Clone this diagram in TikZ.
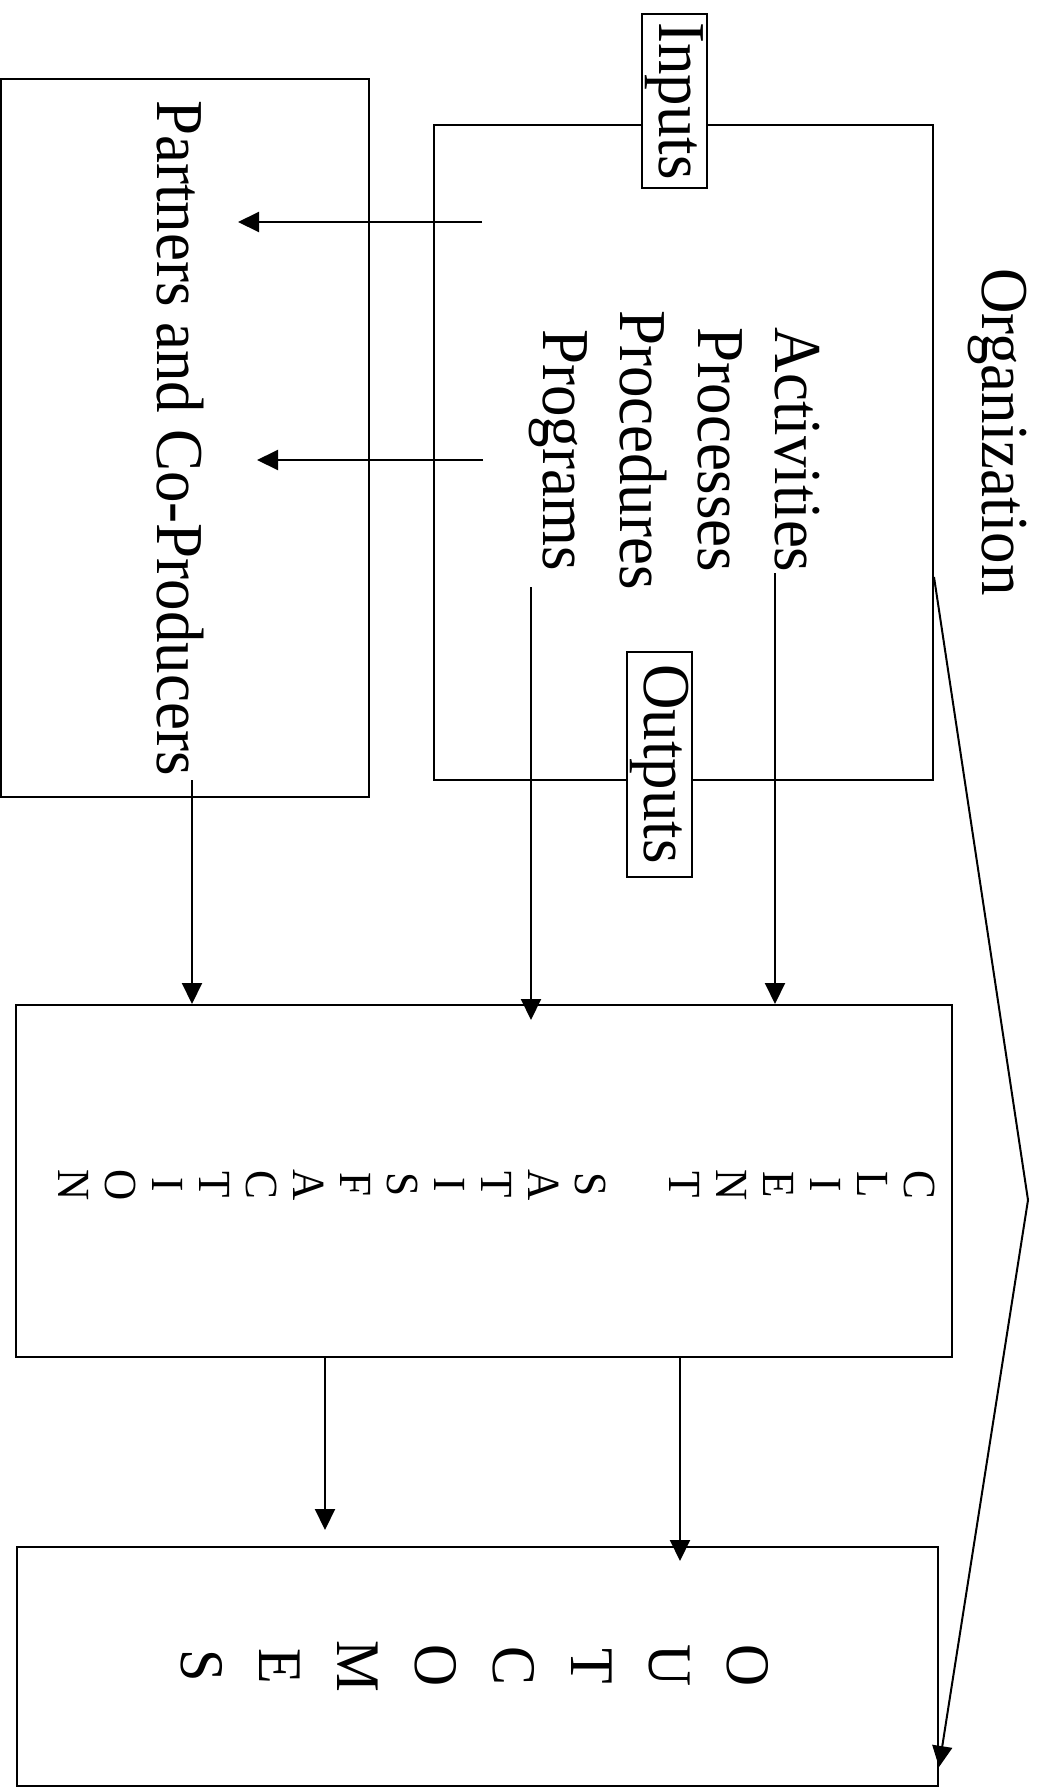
\documentclass[tikz,border=0pt]{standalone}
\usepackage{fontspec}
\setmainfont{Liberation Serif}[FakeStretch=0.94]
\usetikzlibrary{arrows.meta,calc,positioning}
\tikzset{>={Triangle[length=21pt,width=20pt]}}

\begin{document}
\begin{tikzpicture}[x=1pt, y=-1pt, line width=2pt,
	box/.style={draw,rectangle,inner sep=0pt},
	tag/.style={draw,fill=white,rectangle,inner sep=0pt,rotate=-90,minimum height=65pt,font=\fontsize{67}{80}\selectfont},
	word/.style={rotate=-90,anchor=base,inner sep=0pt,font=\fontsize{67}{80}\selectfont}]
	\useasboundingbox (0,0) rectangle (1041,1791);
	% boxes
	\node[box,minimum width=368pt,minimum height=718pt] (partners) at (185,438) {};
	\node[box,minimum width=499pt,minimum height=655pt] (org) at (683.5,452.5) {};
	\node[box,minimum width=936pt,minimum height=352pt] (cs) at (484,1181) {};
	\node[box,minimum width=921pt,minimum height=239pt] (outcomes) at (477.5,1666.5) {};
	\node[tag,minimum width=174pt] (inputs) at (674.5,101) {Inputs};
	\node[tag,minimum width=225pt] (outputs) at (659.5,764) {Outputs};
	% texts
	\node[word] (organization) at (982,432) {Organization};
	\node[word] (activities) at (775,450) {Activities};
	\node[word] (processes)  at (698,450) {Processes};
	\node[word] (procedures) at (620,450) {Procedures};
	\node[word] (programs)   at (543,450) {Programs};
	\node[word] (partnerstext) at (157,438) {Partners and Co-Producers};
	\node[rotate=-90,align=center,inner sep=0pt,font=\fontsize{46}{47}\selectfont] (cstext) at (497,1185)
		{C\\L\\I\\E\\N\\T\\[47pt]S\\A\\T\\I\\S\\F\\A\\C\\T\\I\\O\\N};
	\node[rotate=-90,align=center,inner sep=0pt,font=\fontsize{62}{78}\selectfont] (outtext) at (475,1666)
		{O\\U\\T\\C\\O\\M\\E\\S};
	% connectors
	\coordinate (inA) at (482,222);
	\coordinate (inB) at (483,460);
	\coordinate (progend) at (531,587);
	\coordinate (partend) at (192,780);
	\coordinate (orgout) at (org.east |- 0,577);
	\coordinate (bend) at (1028,1200);
	\coordinate (leftdrop) at ([xshift=-159pt]cs.south);
	\coordinate (rightdrop) at ([xshift=196pt]cs.south);

	\draw[->] (inA) -- (inA -| 238,0);
	\draw[->] (inB) -- (inB -| 257,0);
	\draw[->] (activities.base east) -- (activities.base east |- cs.north);
	\draw[->] (progend) -- ($(progend |- cs.north)+(0,16)$);
	\draw[->] (partend) -- (partend |- cs.north);
	\draw[->] (leftdrop) -- ($(leftdrop |- outcomes.north)+(0,-16)$);
	\draw[->] (rightdrop) -- ($(rightdrop |- outcomes.north)+(0,15)$);
	\draw[->] (orgout) -- (bend) -- (outcomes.east |- 0,1767);
\end{tikzpicture}
\end{document}
